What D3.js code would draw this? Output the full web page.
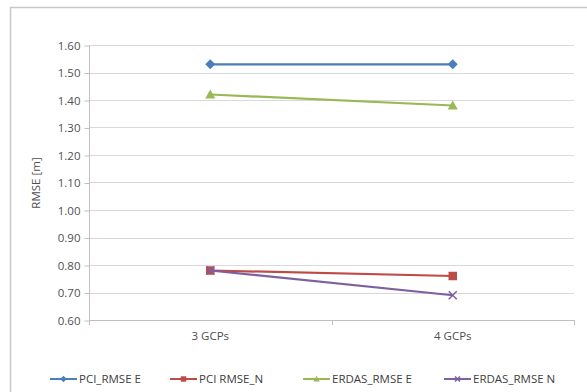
<!DOCTYPE html>
<html><head><meta charset="utf-8">
<script src="https://cdn.jsdelivr.net/npm/d3@7"></script>
<style>body{margin:0;background:#fff}svg{display:block}text{font-family:"Open Sans",sans-serif}</style>
</head><body>
<svg id="c" width="587" height="392"></svg>
<script>
const categories = ["3 GCPs", "4 GCPs"];
const seriesNames = ["PCI_RMSE E", "PCI RMSE_N", "ERDAS_RMSE E", "ERDAS_RMSE N"];
const pciE = [1.53, 1.53];
const pciN = [0.78, 0.76];
const erdasE = [1.42, 1.38];
const erdasN = [0.78, 0.69];
const yTicks = [0.60, 0.70, 0.80, 0.90, 1.00, 1.10, 1.20, 1.30, 1.40, 1.50, 1.60];
const yTitle = "RMSE [m]";

const colors = ["#4a7ebb", "#be4b48", "#98b954", "#7d60a0"];
const shapes = ["diamond", "square", "triangle", "x"];
const seriesVals = [pciE, pciN, erdasE, erdasN];
const fs = "11.5px";

const svg = d3.select("#c");
svg.append("rect").attr("x", 10.5).attr("y", 7.5).attr("width", 600).attr("height", 400)
  .attr("fill", "#fff").attr("stroke", "#c8c8c8").attr("stroke-width", 1.5);

const x = d3.scaleBand().domain(categories).range([89, 574]);
const y = d3.scaleLinear().domain([0.6, 1.6]).range([320, 45]);

svg.append("g").selectAll("line").data(yTicks).join("line")
  .attr("x1", 89).attr("x2", 574)
  .attr("y1", d => Math.round(y(d)) + 0.5).attr("y2", d => Math.round(y(d)) + 0.5)
  .attr("stroke", "#d9d9d9").attr("stroke-width", 1);

const yAxis = svg.append("g").attr("transform", "translate(89.5,0.5)")
  .call(d3.axisLeft(y).tickValues(yTicks).tickFormat(d3.format(".2f")).tickSize(5).tickPadding(4));
yAxis.select(".domain").attr("stroke", "#bfbfbf").attr("d", `M-0,${y(1.6)}V${y(0.6)}`);
yAxis.selectAll(".tick line").attr("stroke", "#bfbfbf");
yAxis.selectAll("text").attr("fill", "#505050").style("font-size", fs).style("font-family", "'Open Sans',sans-serif");

const xAxis = svg.append("g").attr("transform", "translate(0,320.5)")
  .call(d3.axisBottom(x).tickSize(0).tickPadding(11));
xAxis.select(".domain").remove();
xAxis.selectAll("text").attr("fill", "#505050").style("font-size", fs).style("font-family", "'Open Sans',sans-serif");
const xb = [x.range()[0], ...categories.map(c => x(c) + x.bandwidth())];
svg.append("g").selectAll("line").data(xb).join("line")
  .attr("x1", d => Math.round(d) + 0.5).attr("x2", d => Math.round(d) + 0.5)
  .attr("y1", 320).attr("y2", 325).attr("stroke", "#bfbfbf");
svg.append("line").attr("x1", 89).attr("x2", 574).attr("y1", 320.5).attr("y2", 320.5).attr("stroke", "#bfbfbf");

svg.append("text").attr("transform", "translate(40,183) rotate(-90)")
  .attr("text-anchor", "middle").attr("fill", "#505050").style("font-size", fs).text(yTitle);

function marker(g, shape, color, cx, cy, s) {
  if (shape === "diamond") {
    g.append("path").attr("d", `M${cx},${cy - s}L${cx + s},${cy}L${cx},${cy + s}L${cx - s},${cy}Z`).attr("fill", color);
  } else if (shape === "square") {
    g.append("rect").attr("x", cx - s * 0.85).attr("y", cy - s * 0.85).attr("width", s * 1.7).attr("height", s * 1.7).attr("fill", color);
  } else if (shape === "triangle") {
    g.append("path").attr("d", `M${cx},${cy - s}L${cx + s},${cy + s * 0.8}L${cx - s},${cy + s * 0.8}Z`).attr("fill", color);
  } else {
    g.append("path").attr("d", `M${cx - s * 0.8},${cy - s * 0.8}L${cx + s * 0.8},${cy + s * 0.8}M${cx - s * 0.8},${cy + s * 0.8}L${cx + s * 0.8},${cy - s * 0.8}`)
      .attr("stroke", color).attr("stroke-width", 1.5).attr("fill", "none");
  }
}

const line = d3.line().x((d, i) => x(categories[i]) + x.bandwidth() / 2).y(d => y(d));
seriesVals.forEach((vals, si) => {
  const g = svg.append("g");
  g.append("path").attr("d", line(vals)).attr("fill", "none").attr("stroke", colors[si]).attr("stroke-width", 2.25);
  vals.forEach((v, i) => marker(g, shapes[si], colors[si], x(categories[i]) + x.bandwidth() / 2, y(v), 5));
});

const legendX = [50, 170, 303, 444];
const ly = 379;
seriesNames.forEach((n, i) => {
  const g = svg.append("g");
  const lx = legendX[i];
  g.append("line").attr("x1", lx).attr("x2", lx + 27).attr("y1", ly).attr("y2", ly).attr("stroke", colors[i]).attr("stroke-width", 2);
  marker(g, shapes[i], colors[i], lx + 13.5, ly, 3.2);
  g.append("text").attr("x", lx + 29).attr("y", ly + 4).attr("fill", "#404040").style("font-size", fs).text(n);
});
</script>
</body></html>
